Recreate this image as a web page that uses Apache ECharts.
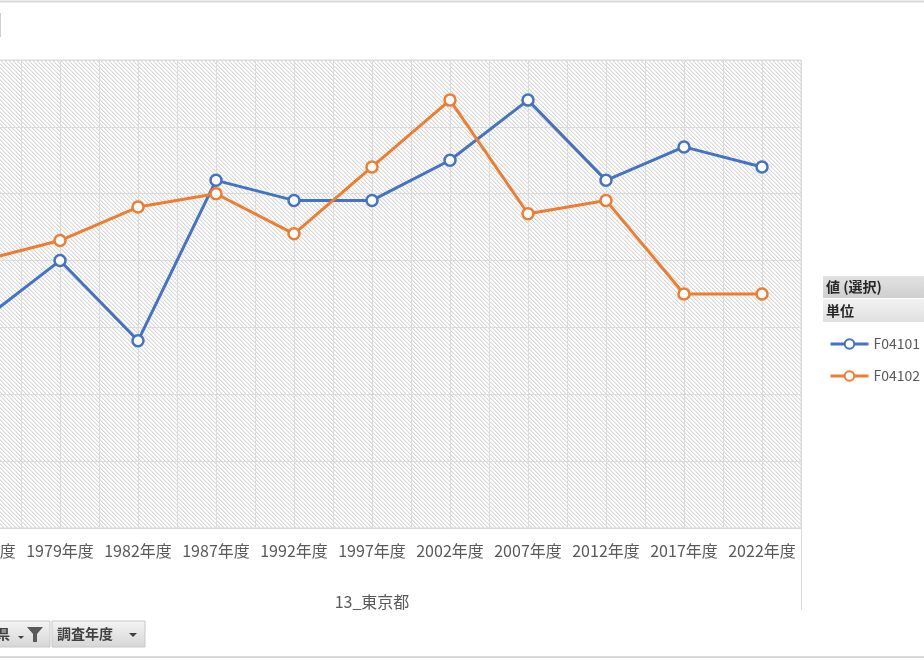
<!DOCTYPE html>
<html><head><meta charset="utf-8">
<script src="https://cdn.jsdelivr.net/npm/echarts@6/dist/echarts.min.js"></script>
<style>
html,body{margin:0;padding:0;overflow:hidden;background:#fff;width:924px;height:660px;}
#wrap{position:absolute;left:0;top:0;width:924px;height:660px;overflow:hidden;}
#c{position:absolute;left:-120px;top:0;width:1044px;height:660px;}
</style></head>
<body><div id="wrap"><div id="c"></div></div>
<script>
const categories = ['1977年度','1979年度','1982年度','1987年度','1992年度','1997年度','2002年度','2007年度','2012年度','2017年度','2022年度'];
const seriesNames = ['F04101','F04102'];
const valuesF04101 = [31, 40, 28, 52, 49, 49, 55, 64, 52, 57, 54];
const valuesF04102 = [40, 43, 48, 50, 44, 54, 64, 47, 49, 35, 35];
const axisTitle = '13_東京都';
const legendHeader = '値 (選択)';
const legendSub = '単位';
const buttonLabels = ['都道府県', '調査年度'];

const OFF = 120;
const FONT = '"Noto Sans CJK JP", "Noto Sans", sans-serif';
function OF(x){ return x + OFF; }

// hatch pattern
const pc = document.createElement('canvas');
pc.width = 8; pc.height = 8;
const pctx = pc.getContext('2d');
const img = pctx.createImageData(8, 8);
for (let y = 0; y < 8; y++) for (let x = 0; x < 8; x++) {
  const m = ((x - y) % 4 + 4) % 4;
  let v = 255;
  if (m === 0) v = 216; else if (m === 1) v = 238;
  const i = (y * 8 + x) * 4;
  img.data[i] = v; img.data[i+1] = v; img.data[i+2] = v; img.data[i+3] = 255;
}
pctx.putImageData(img, 0, 0);

function btn(x, w, label, withFilter) {
  const children = [
    {type:'rect', shape:{x:x, y:621, width:w, height:26},
     style:{fill:new echarts.graphic.LinearGradient(0,0,0,1,[{offset:0,color:'#f4f4f4'},{offset:1,color:'#d6d6d6'}]), stroke:'#c8c8c8', lineWidth:1}},
    {type:'text', style:{text:label, x: withFilter ? x + w - 40 : x + 5, y:634, verticalAlign:'middle', textAlign: withFilter ? 'right' : 'left', font:'bold 14px ' + FONT, fill:'#404040'}}
  ];
  if (withFilter) {
    const ax = x + w - 28;
    children.push({type:'polygon', shape:{points:[[ax-4,636],[ax+2,636],[ax-1,639]]}, style:{fill:'#404040'}});
    const fx = x + w - 15;
    children.push({type:'polygon', shape:{points:[[fx-8,627],[fx+8,627],[fx+2,634],[fx+2,642],[fx-2,642],[fx-2,634]]}, style:{fill:'#595959'}});
  } else {
    const ax = x + w - 12;
    children.push({type:'polygon', shape:{points:[[ax-4,633],[ax+4,633],[ax,637]]}, style:{fill:'#404040'}});
  }
  return {type:'group', children};
}

const chart = echarts.init(document.getElementById('c'), null, {renderer:'canvas'});
chart.setOption({
  animation:false,
  backgroundColor:'#ffffff',
  textStyle:{fontFamily:FONT},
  grid:{left:63, right:123, top:60, bottom:132, show:true,
        backgroundColor:{image:pc, repeat:'repeat'}, borderColor:'#d9d9d9', borderWidth:1},
  legend:{
    orient:'vertical', left:OF(824), top:332, itemWidth:38, itemHeight:12, itemGap:18,
    lineStyle:{width:3},
    textStyle:{color:'#595959', fontSize:14, fontFamily:FONT},
    data:seriesNames
  },
  xAxis:[
    {type:'category', data:categories, boundaryGap:true,
     axisLine:{lineStyle:{color:'#d9d9d9', width:1}}, axisTick:{show:false},
     axisLabel:{color:'#595959', fontSize:16, margin:15, fontFamily:FONT, interval:0},
     splitLine:{show:false},
     name:axisTitle, nameLocation:'middle', nameGap:66,
     nameTextStyle:{color:'#595959', fontSize:16, fontFamily:FONT}},
    {type:'value', min:0, max:(categories.length*2), interval:1, position:'top',
     axisLine:{show:false}, axisTick:{show:false}, axisLabel:{show:false},
     splitLine:{show:true, lineStyle:{color:'#dcdcdc', width:1}}}
  ],
  yAxis:{type:'value', min:0, max:70, interval:10,
    axisLine:{show:false}, axisTick:{show:false}, axisLabel:{show:false},
    splitLine:{lineStyle:{color:'#dcdcdc', width:1}}},
  series:[
    {name:seriesNames[0], type:'line', data:valuesF04101, xAxisIndex:0,
     symbol:'circle', symbolSize:11,
     lineStyle:{color:'#4472C4', width:3},
     itemStyle:{color:'#ffffff', borderColor:'#4472C4', borderWidth:2.5}},
    {name:seriesNames[1], type:'line', data:valuesF04102, xAxisIndex:0,
     symbol:'circle', symbolSize:11,
     lineStyle:{color:'#ED7D31', width:3},
     itemStyle:{color:'#ffffff', borderColor:'#ED7D31', borderWidth:2.5}}
  ],
  graphic:[
    {type:'line', shape:{x1:0, y1:1.5, x2:1044, y2:1.5}, style:{stroke:'#d9d9d9', lineWidth:2}},
    {type:'line', shape:{x1:0, y1:657, x2:1044, y2:657}, style:{stroke:'#d9d9d9', lineWidth:2}},
    {type:'line', shape:{x1:OF(801.5), y1:528, x2:OF(801.5), y2:610}, style:{stroke:'#d9d9d9', lineWidth:1}},
    {type:'line', shape:{x1:OF(0.5), y1:13, x2:OF(0.5), y2:37}, style:{stroke:'#d0d0d0', lineWidth:1}},
    {type:'rect', shape:{x:OF(823), y:276, width:110, height:22},
     style:{fill:new echarts.graphic.LinearGradient(0,0,0,1,[{offset:0,color:'#e2e2e2'},{offset:1,color:'#cfcfcf'}])}},
    {type:'rect', shape:{x:OF(823), y:299, width:110, height:23},
     style:{fill:new echarts.graphic.LinearGradient(0,0,0,1,[{offset:0,color:'#f2f2f2'},{offset:1,color:'#e0e0e0'}])}},
    {type:'text', style:{text:legendHeader, x:OF(826), y:287, verticalAlign:'middle', font:'bold 14px ' + FONT, fill:'#262626'}},
    {type:'text', style:{text:legendSub, x:OF(826), y:311, verticalAlign:'middle', font:'bold 14px ' + FONT, fill:'#262626'}},
    btn(OF(-60), 110, buttonLabels[0], true),
    btn(OF(52), 93, buttonLabels[1], false)
  ]
});
</script>
</body></html>
